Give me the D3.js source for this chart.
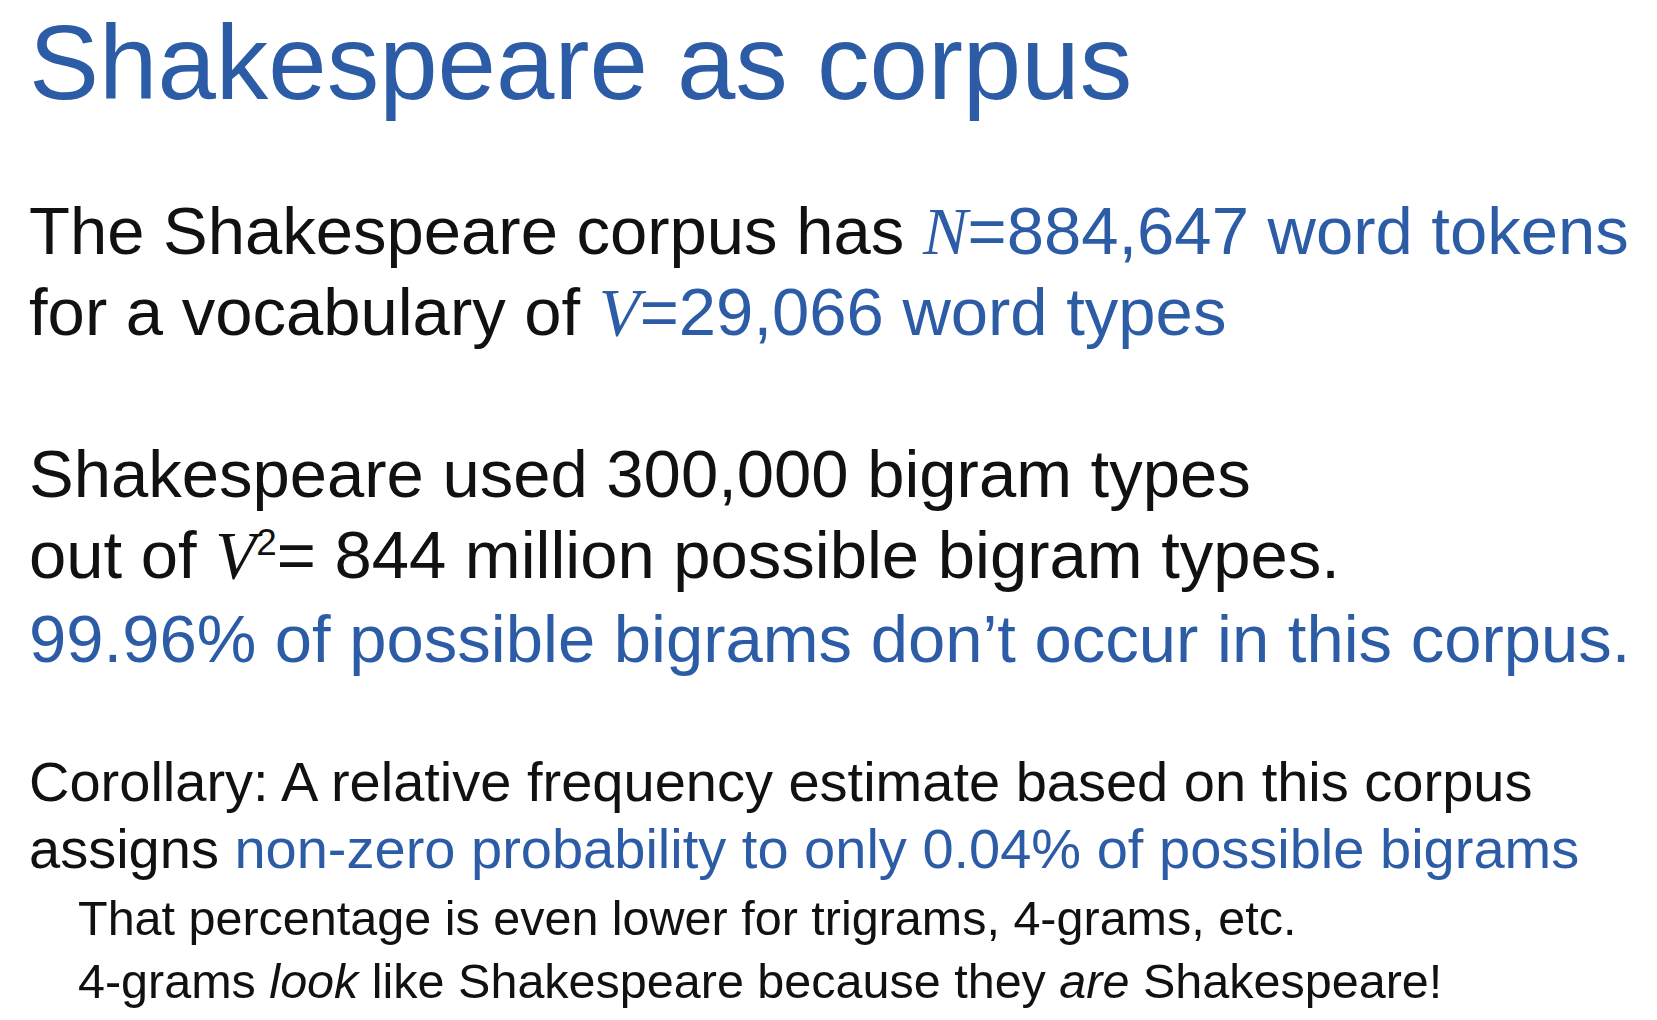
<!DOCTYPE html>
<html><head><meta charset="utf-8">
<script src="https://cdn.jsdelivr.net/npm/d3@7"></script>
<style>body{margin:0;background:#fff}</style>
</head><body>
<script>
const BLUE = "#2d5ca6", BLACK = "#111";
const titleText = "Shakespeare as corpus";
const lines = [
 [29, 254, 67, [["The Shakespeare corpus has ","k"],["N","b","serif"],["=884,647 word tokens","b"]]],
 [29, 335, 67, [["for a vocabulary of ","k"],["V","b","serif"],["=29,066 word types","b"]]],
 [29, 497, 67, [["Shakespeare used 300,000 bigram types","k"]]],
 [29, 578, 67, [["out of ","k"],["V","k","serif"],["2","k","sup"],["= 844 million possible bigram types.","k"]]],
 [29, 662, 67, [["99.96% of possible bigrams don’t occur in this corpus.","b"]]],
 [29, 801, 56, [["Corollary: A relative frequency estimate based on this corpus","k"]]],
 [29, 868, 56, [["assigns ","k"],["non-zero probability to only 0.04% of possible bigrams","b"]]],
 [78, 935, 48.5, [["That percentage is even lower for trigrams, 4-grams, etc.","k"]]],
 [78, 998, 48.5, [["4-grams ","k"],["look","k","italic"],[" like Shakespeare because they ","k"],["are","k","italic"],[" Shakespeare!","k"]]]
];
const svg = d3.select("body").append("svg").attr("width",1657).attr("height",1020);
svg.append("text").attr("x",29).attr("y",99).attr("font-family","Liberation Sans, Arial, sans-serif")
  .attr("font-size",105).attr("fill",BLUE).text(titleText);
lines.forEach(([x,y,fs,segs])=>{
  const t = svg.append("text").attr("x",x).attr("y",y).attr("font-family","Liberation Sans, Arial, sans-serif").attr("font-size",fs);
  let prevSup = false;
  segs.forEach(([s,c,st])=>{
    const ts = t.append("tspan").text(s).attr("fill", c==="b"?BLUE:BLACK);
    if(st==="serif") ts.attr("font-family","Liberation Serif, Times New Roman, serif").attr("font-style","italic");
    if(st==="italic") ts.attr("font-style","italic");
    if(st==="sup"){ ts.attr("font-size",fs*0.55).attr("dy",-fs*0.35); }
    else if(prevSup) ts.attr("dy",fs*0.35);
    prevSup = st==="sup";
  });
});
</script>
</body></html>
